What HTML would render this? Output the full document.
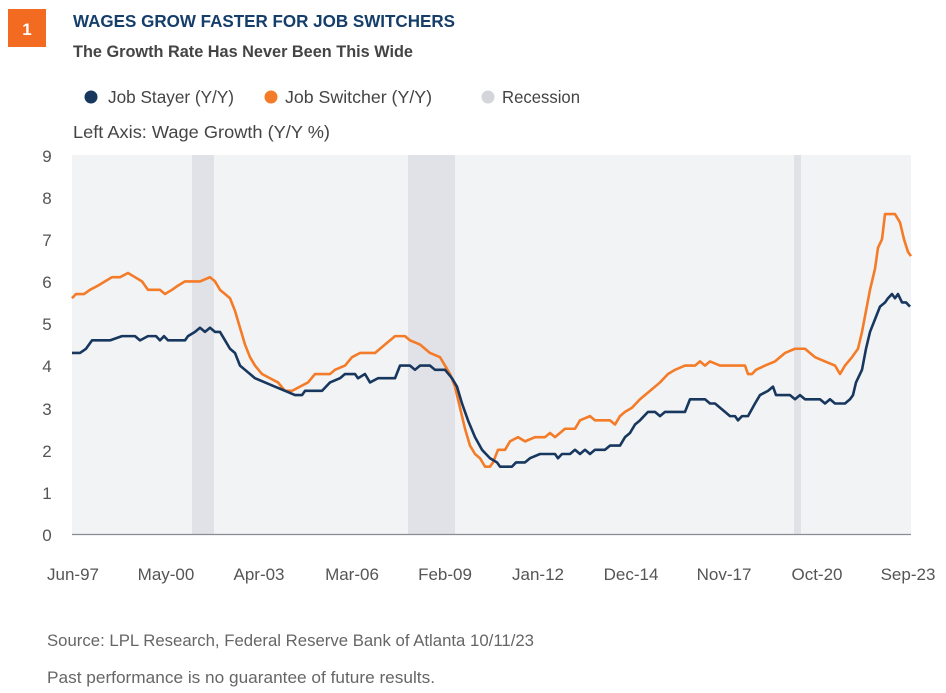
<!DOCTYPE html>
<html><head><meta charset="utf-8"><style>
body{margin:0;width:946px;height:693px;background:#fff;font-family:"Liberation Sans",sans-serif;overflow:hidden}
svg{position:absolute;left:0;top:0}
</style></head><body>
<svg width="946" height="693" viewBox="0 0 946 693">
<rect x="8" y="9" width="38" height="38" fill="#f26b21"/>
<text x="27" y="35" fill="#fff" font-size="17" font-weight="bold" text-anchor="middle">1</text>
<text x="73" y="27" fill="#153e6b" font-size="17.5" font-weight="bold" textLength="382" lengthAdjust="spacingAndGlyphs">WAGES GROW FASTER FOR JOB SWITCHERS</text>
<text x="73" y="57" fill="#444" font-size="16.5" font-weight="bold" textLength="340" lengthAdjust="spacingAndGlyphs">The Growth Rate Has Never Been This Wide</text>
<circle cx="91" cy="97" r="6.5" fill="#17375e"/>
<text x="108" y="103" fill="#444" font-size="17.5" textLength="126" lengthAdjust="spacingAndGlyphs">Job Stayer (Y/Y)</text>
<circle cx="271" cy="97" r="6.5" fill="#f47b27"/>
<text x="285" y="103" fill="#444" font-size="17.5" textLength="147" lengthAdjust="spacingAndGlyphs">Job Switcher (Y/Y)</text>
<circle cx="488" cy="97" r="6.5" fill="#d4d5da"/>
<text x="502" y="103" fill="#444" font-size="17.5" textLength="78" lengthAdjust="spacingAndGlyphs">Recession</text>
<text x="73" y="138" fill="#444" font-size="17.5" textLength="257" lengthAdjust="spacingAndGlyphs">Left Axis: Wage Growth (Y/Y %)</text>
<rect x="72" y="155" width="839" height="379" fill="#f2f3f5"/>
<rect x="192" y="155" width="22" height="379" fill="#e1e2e7"/>
<rect x="408" y="155" width="47" height="379" fill="#e1e2e7"/>
<rect x="794" y="155" width="7" height="379" fill="#e1e2e7"/>
<line x1="72" y1="534.5" x2="911" y2="534.5" stroke="#8a8c94" stroke-width="1.2"/>
<g font-size="17" fill="#555" text-anchor="middle">
<text x="47" y="541">0</text><text x="47" y="499">1</text><text x="47" y="457">2</text><text x="47" y="415">3</text><text x="47" y="372">4</text><text x="47" y="330">5</text><text x="47" y="288">6</text><text x="47" y="246">7</text><text x="47" y="204">8</text><text x="47" y="162">9</text>
</g>
<g font-size="17" fill="#555" text-anchor="middle">
<text x="73" y="580">Jun-97</text><text x="166" y="580">May-00</text><text x="259" y="580">Apr-03</text><text x="352" y="580">Mar-06</text><text x="445" y="580">Feb-09</text><text x="538" y="580">Jan-12</text><text x="631" y="580">Dec-14</text><text x="724" y="580">Nov-17</text><text x="817" y="580">Oct-20</text><text x="908" y="580">Sep-23</text>
</g>
<g transform="translate(0,534) scale(1,-42.1)" fill="none" stroke-width="2.6" stroke-linejoin="round">
<polyline vector-effect="non-scaling-stroke" stroke="#f47b27" points="72,5.6 76,5.7 84,5.7 90,5.8 98,5.9 105,6.0 112,6.1 120,6.1 128,6.2 135,6.1 142,6.0 148,5.8 160,5.8 165,5.7 172,5.8 178,5.9 185,6.0 200,6.0 210,6.1 215,6.0 220,5.8 225,5.7 230,5.6 235,5.3 240,4.9 245,4.5 250,4.2 255,4.0 262,3.8 270,3.7 278,3.6 285,3.4 292,3.4 300,3.5 308,3.6 315,3.8 322,3.8 330,3.8 335,3.9 345,4.0 352,4.2 360,4.3 375,4.3 380,4.4 385,4.5 390,4.6 395,4.7 405,4.7 410,4.6 420,4.5 430,4.3 440,4.2 445,4.0 450,3.8 455,3.5 460,3.0 465,2.5 470,2.1 475,1.9 480,1.8 485,1.6 490,1.6 493,1.7 498,2.0 505,2.0 510,2.2 518,2.3 525,2.2 535,2.3 545,2.3 550,2.4 555,2.3 565,2.5 575,2.5 580,2.7 590,2.8 595,2.7 600,2.7 610,2.7 615,2.6 620,2.8 625,2.9 632,3.0 640,3.2 650,3.4 660,3.6 668,3.8 675,3.9 685,4.0 695,4.0 700,4.1 705,4.0 710,4.1 720,4.0 745,4.0 748,3.8 752,3.8 756,3.9 765,4.0 775,4.1 785,4.3 795,4.4 805,4.4 810,4.3 815,4.2 825,4.1 835,4.0 840,3.8 845,4.0 852,4.2 858,4.4 862,4.8 866,5.3 870,5.8 875,6.3 878,6.8 882,7.0 885,7.6 895,7.6 900,7.4 904,7.0 908,6.7 911,6.6"/>
<polyline vector-effect="non-scaling-stroke" stroke="#17375e" points="72,4.3 80,4.3 86,4.4 92,4.6 110,4.6 122,4.7 135,4.7 140,4.6 148,4.7 156,4.7 160,4.6 164,4.7 168,4.6 185,4.6 188,4.7 195,4.8 200,4.9 205,4.8 210,4.9 215,4.8 220,4.8 225,4.6 230,4.4 235,4.3 240,4.0 245,3.9 255,3.7 265,3.6 275,3.5 285,3.4 295,3.3 302,3.3 305,3.4 322,3.4 326,3.5 330,3.6 340,3.7 345,3.8 355,3.8 358,3.7 365,3.8 370,3.6 378,3.7 395,3.7 400,4.0 410,4.0 415,3.9 420,4.0 430,4.0 435,3.9 445,3.9 452,3.7 457,3.5 462,3.1 468,2.7 475,2.3 482,2.0 490,1.8 497,1.7 500,1.6 512,1.6 516,1.7 525,1.7 530,1.8 540,1.9 555,1.9 558,1.8 562,1.9 570,1.9 575,2.0 580,1.9 585,2.0 590,1.9 595,2.0 605,2.0 610,2.1 620,2.1 625,2.3 630,2.4 635,2.6 640,2.7 648,2.9 655,2.9 660,2.8 665,2.9 685,2.9 690,3.2 705,3.2 710,3.1 715,3.1 725,2.9 730,2.8 735,2.8 738,2.7 742,2.8 748,2.8 755,3.1 760,3.3 768,3.4 773,3.5 776,3.3 790,3.3 795,3.2 800,3.3 805,3.2 820,3.2 825,3.1 830,3.2 835,3.1 845,3.1 850,3.2 853,3.3 856,3.6 862,3.9 866,4.4 870,4.8 875,5.1 880,5.4 885,5.5 888,5.6 892,5.7 895,5.6 898,5.7 902,5.5 906,5.5 910,5.4"/>
</g>
<text x="47" y="646" fill="#666" font-size="17" textLength="487" lengthAdjust="spacingAndGlyphs">Source: LPL Research, Federal Reserve Bank of Atlanta  10/11/23</text>
<text x="47" y="683" fill="#666" font-size="17" textLength="388" lengthAdjust="spacingAndGlyphs">Past performance is no guarantee of future results.</text>
</svg>
</body></html>
